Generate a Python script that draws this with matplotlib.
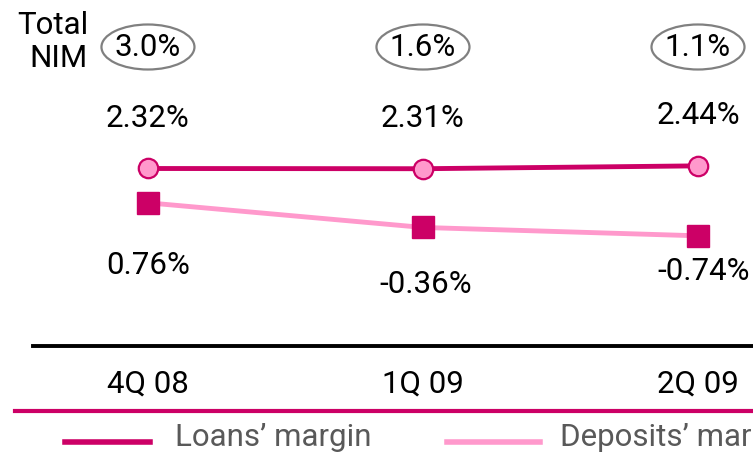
import matplotlib.pyplot as plt
from matplotlib.patches import Ellipse
from matplotlib.lines import Line2D
from matplotlib.transforms import blended_transform_factory

quarters = ["4Q 08", "1Q 09", "2Q 09"]
loans_margin = [2.32, 2.31, 2.44]
deposits_margin = [0.76, -0.36, -0.74]
total_nim = ["3.0%", "1.6%", "1.1%"]

# label offsets (points) for the deposits values, they are not evenly placed
dep_offsets = [(0, -45), (2, -41), (4, -26)]

DARK = "#CC0066"
PINK = "#FF99CC"
FS = 22.5

plt.rcParams["font.family"] = ["Roboto", "DejaVu Sans"]

W, H = 753, 454
fig = plt.figure(figsize=(W / 100, H / 100), dpi=100)
ax = fig.add_axes([0, 0, 1, 1])
ax.axis("off")

x = list(range(len(quarters)))
ax.set_xlim(-0.538, 2.2)
ax.set_ylim(2.32 - (H - 168.5) / 22, 2.32 + 168.5 / 22)

ax.plot(x, deposits_margin, color=PINK, lw=3.5, marker="s", ms=16,
        mfc=DARK, mec=DARK, zorder=2)
ax.plot(x, loans_margin, color=DARK, lw=3.5, marker="o", ms=14,
        mfc=PINK, mec=DARK, mew=1.6, zorder=3)

for xi, v in zip(x, loans_margin):
    ax.annotate(f"{v:.2f}%", (xi, v), xytext=(0, 36), textcoords="offset points",
                ha="center", va="center", fontsize=FS)
for xi, v, off in zip(x, deposits_margin, dep_offsets):
    ax.annotate(f"{v:.2f}%", (xi, v), xytext=off, textcoords="offset points",
                ha="center", va="center", fontsize=FS)

# total NIM in grey ellipses
tr = blended_transform_factory(ax.transData, fig.transFigure)
for xi, t in zip(x, total_nim):
    ax.add_patch(Ellipse((xi, 1 - 47 / H), 93 / 275, 45 / H, transform=tr,
                         fc="white", ec="#808080", lw=1.6, clip_on=False))
    ax.text(xi, 1 - 47 / H, t, transform=tr, ha="center", va="center", fontsize=FS)

fig.text(88 / W, 1 - 42 / H, "Total\nNIM", ha="right", va="center",
         multialignment="right", fontsize=FS, linespacing=1.15)

# category axis
fig.add_artist(Line2D([33 / W, 1], [1 - 346 / H] * 2, color="black", lw=2.8))
for xi, q in zip(x, quarters):
    ax.text(xi, 1 - 384 / H, q, transform=tr, ha="center", va="center", fontsize=FS)
fig.add_artist(Line2D([15 / W, 1], [1 - 411 / H] * 2, color=DARK, lw=3))

# legend
fig.add_artist(Line2D([65 / W, 150 / W], [1 - 442 / H] * 2, color=DARK, lw=4))
fig.text(175 / W, 1 - 438 / H, "Loans\u2019 margin", ha="left", va="center",
         fontsize=FS, color="#595959")
fig.add_artist(Line2D([447 / W, 540 / W], [1 - 442 / H] * 2, color=PINK, lw=4))
fig.text(560 / W, 1 - 438 / H, "Deposits\u2019 margin", ha="left", va="center",
         fontsize=FS, color="#595959")

fig.savefig("out.png", dpi=100)
